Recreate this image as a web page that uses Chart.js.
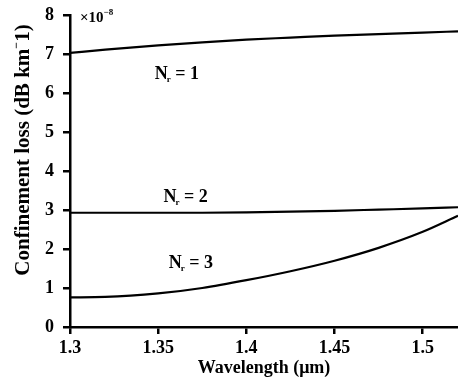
<!DOCTYPE html>
<html>
<head>
<meta charset="utf-8">
<script src="https://cdn.jsdelivr.net/npm/chart.js@4.4.1/dist/chart.umd.min.js"></script>
<style>
  html, body { margin: 0; padding: 0; background: #fff; }
  #wrap { width: 458px; height: 383px; position: relative; }
</style>
</head>
<body>
<div id="wrap"><canvas id="loss-chart"></canvas></div>
<script>
// wavelength samples (um)
const wavelength = [1.30, 1.32, 1.35, 1.375, 1.40, 1.425, 1.45, 1.475, 1.50, 1.52];

// confinement loss, x10^-8 dB/km, for Nr = 1, 2, 3
const lossNr1 = [7.03, 7.11, 7.22, 7.30, 7.37, 7.42, 7.47, 7.51, 7.55, 7.58];
const lossNr2 = [2.93, 2.93, 2.93, 2.93, 2.94, 2.96, 2.98, 3.01, 3.04, 3.07];
const lossNr3 = [0.76, 0.77, 0.86, 1.00, 1.20, 1.43, 1.70, 2.03, 2.44, 2.85];

const xTicks = [1.3, 1.35, 1.4, 1.45, 1.5];
const yTicks = [0, 1, 2, 3, 4, 5, 6, 7, 8];

// curve labels: [text number, wavelength, loss]
const curveLabels = [
    ['1', 1.348, 6.35],
    ['2', 1.353, 3.2],
    ['3', 1.356, 1.52]
];

const serif = '"Liberation Serif", "DejaVu Serif", serif';

const toPoints = ys => wavelength.map((x, i) => ({ x, y: ys[i] }));

const lineStyle = {
    borderColor: '#000',
    borderWidth: 2.2,
    pointRadius: 0,
    fill: false,
    cubicInterpolationMode: 'monotone'
};

// draws the N_r labels, the x10^-8 exponent and the y axis title
const textPlugin = {
    id: 'curveText',
    afterDatasetsDraw(chart) {
        const { ctx, scales } = chart;
        ctx.save();
        ctx.fillStyle = '#000';
        ctx.textBaseline = 'alphabetic';
        curveLabels.forEach(([n, wx, wy]) => {
            let x = scales.x.getPixelForValue(wx);
            const y = scales.y.getPixelForValue(wy);
            ctx.font = `bold 18px ${serif}`;
            ctx.fillText('N', x, y);
            x += ctx.measureText('N').width - 1;
            ctx.font = `bold 9px ${serif}`;
            ctx.fillText('r', x, y + 3);
            x += ctx.measureText('r').width;
            ctx.font = `bold 18px ${serif}`;
            ctx.fillText(' = ' + n, x, y);
        });

        // exponent next to the top of the y axis
        const ex = chart.chartArea.left + 10;
        const ey = chart.chartArea.top + 7;
        ctx.font = `bold 15px ${serif}`;
        ctx.fillText('\u00d710', ex, ey);
        const w = ctx.measureText('\u00d710').width;
        ctx.font = `bold 9px ${serif}`;
        ctx.fillText('\u22128', ex + w, ey - 7);

        // y axis title, rotated
        const head = 'Confinement loss (dB km';
        const sup = '\u2212';
        const tail = '1)';
        ctx.translate(24, 150);
        ctx.rotate(-Math.PI / 2);
        ctx.textBaseline = 'middle';
        ctx.font = `bold 21px ${serif}`;
        const wHead = ctx.measureText(head).width;
        const wTail = ctx.measureText(tail).width;
        ctx.font = `bold 12px ${serif}`;
        const wSup = ctx.measureText(sup).width;
        let tx = -(wHead + wSup + wTail) / 2;
        ctx.font = `bold 21px ${serif}`;
        ctx.fillText(head, tx, 0);
        tx += wHead;
        ctx.font = `bold 12px ${serif}`;
        ctx.fillText(sup, tx, -7);
        tx += wSup;
        ctx.font = `bold 21px ${serif}`;
        ctx.fillText(tail, tx, 0);
        ctx.restore();
    }
};

new Chart(document.getElementById('loss-chart'), {
    type: 'line',
    data: {
        datasets: [
            { label: 'Nr = 1', data: toPoints(lossNr1), ...lineStyle },
            { label: 'Nr = 2', data: toPoints(lossNr2), ...lineStyle },
            { label: 'Nr = 3', data: toPoints(lossNr3), ...lineStyle }
        ]
    },
    options: {
        responsive: true,
        maintainAspectRatio: false,
        animation: false,
        layout: { padding: { top: 15, right: 0, left: 0, bottom: 0 } },
        plugins: {
            legend: { display: false },
            tooltip: { enabled: false }
        },
        scales: {
            x: {
                type: 'linear',
                min: 1.3,
                max: 1.52,
                afterBuildTicks: scale => { scale.ticks = xTicks.map(v => ({ value: v })); },
                afterFit: scale => { scale.height = 56; },
                border: { color: '#000', width: 2.5 },
                grid: { drawOnChartArea: false, color: '#000', lineWidth: 2.5, tickLength: 7 },
                ticks: {
                    color: '#000',
                    padding: 4,
                    maxRotation: 0,
                    font: { family: serif, size: 18, weight: 'bold' },
                    callback: v => String(v)
                },
                title: {
                    display: true,
                    text: 'Wavelength (\u03bcm)',
                    color: '#000',
                    padding: { top: 0 },
                    font: { family: serif, size: 18, weight: 'bold' }
                }
            },
            y: {
                min: 0,
                max: 8,
                afterBuildTicks: scale => { scale.ticks = yTicks.map(v => ({ value: v })); },
                afterFit: scale => { scale.width = 70; scale.paddingTop = 0; scale.paddingBottom = 0; },
                border: { color: '#000', width: 2.5 },
                grid: { drawOnChartArea: false, color: '#000', lineWidth: 2.5, tickLength: 7 },
                ticks: {
                    color: '#000',
                    padding: 9,
                    font: { family: serif, size: 18, weight: 'bold', lineHeight: 1 }
                }
            }
        }
    },
    plugins: [textPlugin]
});
</script>
</body>
</html>
